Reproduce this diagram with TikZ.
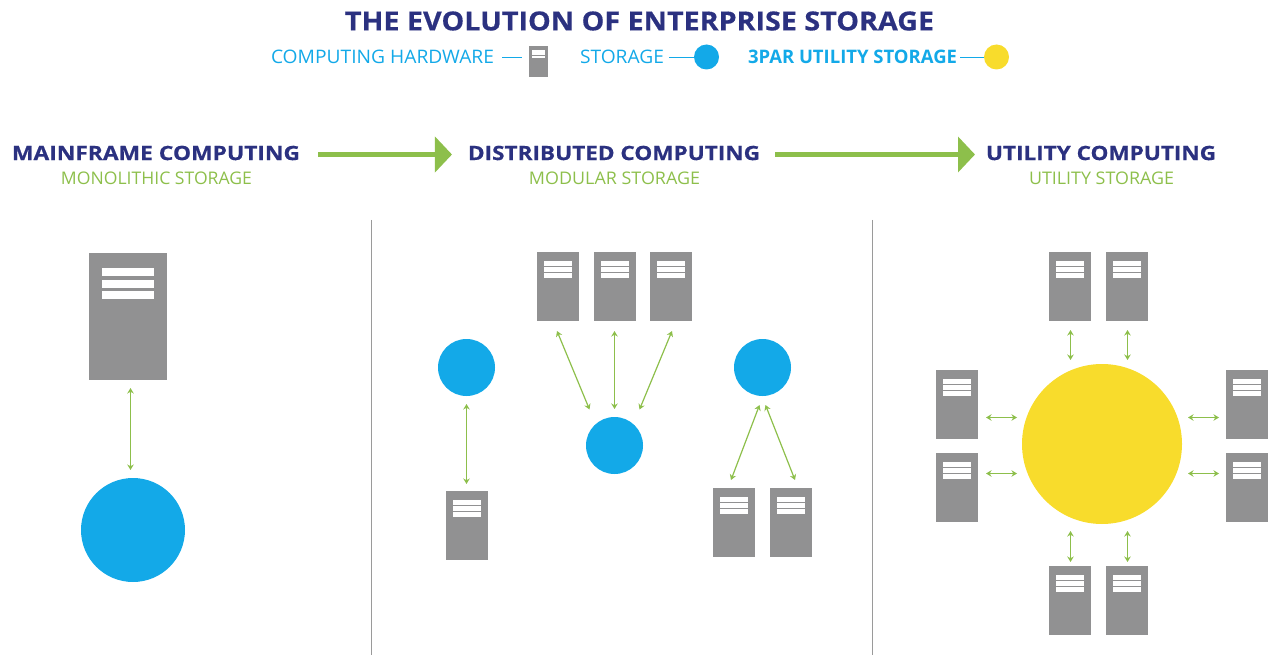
\documentclass[tikz,border=0pt]{standalone}
\usepackage{fontspec}
\usepackage{graphicx}
\setmainfont{Open Sans}
\newfontfamily\heavyface{Open Sans}[BoldFeatures={FakeBold=0.5}]
\usetikzlibrary{arrows.meta}
\definecolor{navy}{HTML}{2B3180}
\definecolor{cyanc}{HTML}{13A9E8}
\definecolor{greenc}{HTML}{8DBF4B}
\definecolor{yellowc}{HTML}{F8DC2C}
\definecolor{grayc}{HTML}{919192}
\definecolor{rulec}{HTML}{9A9A9A}
\tikzset{
  srvbox/.style={fill=grayc,draw=none,inner sep=0pt,outer sep=0pt,anchor=north west,minimum width=42pt,minimum height=69pt},
  disk/.style={circle,fill=cyanc,draw=none,inner sep=0pt,outer sep=0pt,minimum size=57pt},
  sun/.style={circle,fill=yellowc,draw=none,inner sep=0pt,outer sep=0pt},
  label/.style={inner sep=0pt,outer sep=0pt},
  link/.style={draw=greenc,line width=1.2pt,{Stealth[length=5.5pt,width=6.5pt]}-{Stealth[length=5.5pt,width=6.5pt]}},
  bigarrow/.style={draw=greenc,line width=5.5pt,-{Triangle[length=17pt,width=35pt]}},
  keyline/.style={draw=cyanc,line width=0.8pt},
  divider/.style={draw=rulec,line width=1pt}
}
\newcommand{\ftxt}[3]{\resizebox{#1pt}{#2pt}{#3}}
\newcommand{\srv}[3]{%
  \node[srvbox] (#1) at (#2,#3) {};
  \fill[white] ([shift={(7,9)}]#1.north west) rectangle ++(28,5);
  \fill[white] ([shift={(7,15)}]#1.north west) rectangle ++(28,4.5);
  \fill[white] ([shift={(7,21)}]#1.north west) rectangle ++(28,5);
}
\begin{document}
\begin{tikzpicture}[x=1pt,y=-1pt]
\useasboundingbox (0,0) rectangle (1269,655);
% title
\node[label,text=navy] (title) at (639.5,21) {\ftxt{589}{19}{\heavyface\bfseries THE EVOLUTION OF ENTERPRISE STORAGE}};
% legend
\node[label,text=cyanc] (lg1) at (382.5,57) {\ftxt{223}{13.5}{COMPUTING HARDWARE}};
\node[srvbox,minimum width=19pt,minimum height=31pt] (lgs) at (529,46) {};
\fill[white] ([shift={(3,4)}]lgs.north west) rectangle ++(13,2.6);
\fill[white] ([shift={(3,7.3)}]lgs.north west) rectangle ++(13,1.8);
\fill[white] ([shift={(3,9.8)}]lgs.north west) rectangle ++(13,2.3);
\draw[keyline] ([shift={(8,0)}]lg1.east) -- ([shift={(-7,-4.5)}]lgs.west);
\node[label,text=cyanc] (lg2) at (622,57) {\ftxt{84}{13.5}{STORAGE}};
\node[disk,minimum size=25pt] (lgc) at (706.5,57) {};
\draw[keyline] ([shift={(5,0)}]lg2.east) -- (lgc.west);
\node[label,text=cyanc] (lg3) at (852.5,57) {\ftxt{209}{13.5}{\bfseries 3PAR UTILITY STORAGE}};
\node[sun,minimum size=25pt] (lgy) at (996.5,57) {};
\draw[keyline] ([shift={(3,0)}]lg3.east) -- (lgy.west);
% headings
\node[label,text=navy] (h1) at (156,153) {\ftxt{288}{14.3}{\heavyface\bfseries MAINFRAME COMPUTING}};
\node[label,text=greenc] (s1) at (156.5,178) {\ftxt{191}{12.6}{MONOLITHIC STORAGE}};
\node[label,text=navy] (h2) at (614,153) {\ftxt{292}{14.3}{\heavyface\bfseries DISTRIBUTED COMPUTING}};
\node[label,text=greenc] (s2) at (614.5,178) {\ftxt{171}{12.6}{MODULAR STORAGE}};
\node[label,text=navy] (h3) at (1101,153) {\ftxt{230}{14.3}{\heavyface\bfseries UTILITY COMPUTING}};
\node[label,text=greenc] (s3) at (1101.5,178) {\ftxt{145}{12.6}{UTILITY STORAGE}};
\draw[bigarrow] ([shift={(18,1.5)}]h1.east) -- ([shift={(-16,1.5)}]h2.west);
\draw[bigarrow] ([shift={(15,1.5)}]h2.east) -- ([shift={(-11,1.5)}]h3.west);
% dividers
\coordinate (d1a) at (371.5,220); \coordinate (d1b) at (371.5,655);
\coordinate (d2a) at (872.5,220); \coordinate (d2b) at (872.5,655);
\draw[divider] (d1a) -- (d1b);
\draw[divider] (d2a) -- (d2b);
% mainframe
\node[srvbox,minimum width=78pt,minimum height=127pt] (mf) at (89,253) {};
\fill[white] ([shift={(13,15)}]mf.north west) rectangle ++(52,8);
\fill[white] ([shift={(13,27)}]mf.north west) rectangle ++(52,8);
\fill[white] ([shift={(13,38)}]mf.north west) rectangle ++(52,8);
\node[disk,minimum size=104pt] (mfd) at (133,530) {};
\draw[link] ([shift={(2.5,8)}]mf.south) -- ([shift={(-2.5,-8)}]mfd.north);
% distributed
\srv{a1}{537}{252}\srv{a2}{594}{252}\srv{a3}{650}{252}
\node[disk] (ac) at (614.5,445.5) {};
\draw[link] ([shift={(-1,10)}]a1.south) -- ([shift={(-25,-36)}]ac.center);
\draw[link] ([shift={(-0.5,10)}]a2.south) -- ([shift={(0,-8)}]ac.north);
\draw[link] ([shift={(1,10)}]a3.south) -- ([shift={(25,-36)}]ac.center);
\node[disk] (bc) at (466.5,367.5) {};
\srv{b1}{446}{491}
\draw[link] ([shift={(0,8)}]bc.south) -- ([shift={(-0.5,-7)}]b1.north);
\node[disk] (cc) at (762.5,367.5) {};
\srv{c1}{713}{488}\srv{c2}{770}{488}
\draw[link] ([shift={(-3,9)}]cc.south) -- ([shift={(-3,-8)}]c1.north);
\draw[link] ([shift={(3,9)}]cc.south) -- ([shift={(4,-8)}]c2.north);
% utility
\node[sun,minimum size=160pt] (u) at (1102,444) {};
\srv{t1}{1049}{252}\srv{t2}{1106}{252}
\srv{l1}{936}{370}\srv{l2}{936}{453}
\srv{r1}{1226}{370}\srv{r2}{1226}{453}
\srv{d1}{1049}{566}\srv{d2}{1106}{566}
\draw[link] ([shift={(0.5,9)}]t1.south) -- ([shift={(-31.5,-4)}]u.north);
\draw[link] ([shift={(0.5,9)}]t2.south) -- ([shift={(25.5,-4)}]u.north);
\draw[link] ([shift={(0.5,-4)}]d1.north) -- ([shift={(-31.5,7)}]u.south);
\draw[link] ([shift={(0.5,-4)}]d2.north) -- ([shift={(25.5,7)}]u.south);
\draw[link] ([shift={(8,13)}]l1.east) -- ([shift={(-5,-26.5)}]u.west);
\draw[link] ([shift={(8,-14)}]l2.east) -- ([shift={(-5,29.5)}]u.west);
\draw[link] ([shift={(-7,13)}]r1.west) -- ([shift={(6,-26.5)}]u.east);
\draw[link] ([shift={(-7,-14)}]r2.west) -- ([shift={(6,29.5)}]u.east);
\end{tikzpicture}
\end{document}
